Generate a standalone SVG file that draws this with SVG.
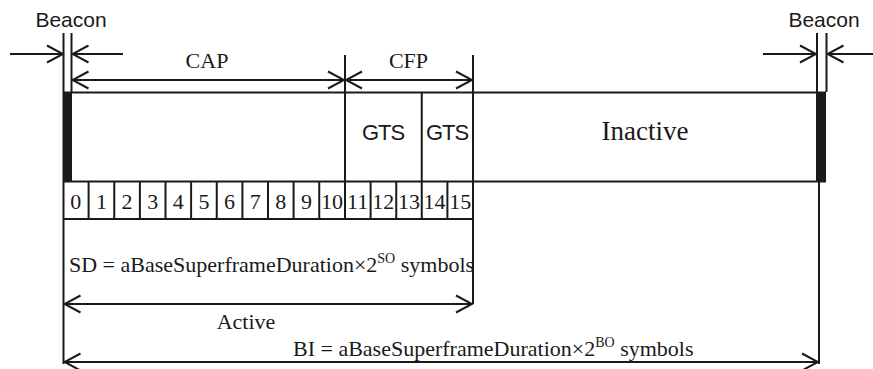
<svg xmlns="http://www.w3.org/2000/svg" width="873" height="369" viewBox="0 0 873 369">
<style>
.ln{stroke:#1a1a1a;stroke-width:2;fill:none}
.arr{stroke:#1a1a1a;stroke-width:2;fill:none;marker-end:url(#ah)}
.dbl{stroke:#1a1a1a;stroke-width:2;fill:none;marker-end:url(#ah);marker-start:url(#ahs)}
.bar{fill:#1a1a1a}
</style>
<defs>
<marker id="ah" markerUnits="userSpaceOnUse" markerWidth="20" markerHeight="20" viewBox="-18 -10 20 20" refX="0" refY="0" orient="auto">
<path d="M-16,-8.5 L0,0 L-16,8.5" stroke="#1a1a1a" stroke-width="2" fill="none"/>
</marker>
<marker id="ahs" markerUnits="userSpaceOnUse" markerWidth="20" markerHeight="20" viewBox="-18 -10 20 20" refX="0" refY="0" orient="auto-start-reverse">
<path d="M-16,-8.5 L0,0 L-16,8.5" stroke="#1a1a1a" stroke-width="2" fill="none"/>
</marker>
</defs>
<g id="superframe">
<line class="ln" x1="63" y1="92.5" x2="826" y2="92.5"/>
<line class="ln" x1="63" y1="181.5" x2="826" y2="181.5"/>
<rect class="bar" x="63" y="92" width="9" height="90"/>
<rect class="bar" x="816" y="92" width="10" height="90"/>
<line class="ln" x1="345" y1="55" x2="345" y2="219"/>
<line class="ln" x1="421.75" y1="92" x2="421.75" y2="219"/>
<line class="ln" x1="473" y1="55" x2="473" y2="304"/>
<g font-family="Liberation Sans, Arial, sans-serif" font-size="22" letter-spacing="-1" fill="#1a1a1a" text-anchor="middle">
<text x="383" y="139.5">GTS</text>
<text x="447" y="139.5">GTS</text>
</g>
<text x="645" y="139.5" font-family="Liberation Serif, Times New Roman, serif" font-size="27" fill="#1a1a1a" text-anchor="middle">Inactive</text>
</g>
<g id="slots">
<line class="ln" x1="63" y1="219" x2="473" y2="219"/>
<line class="ln" x1="88.6" y1="182" x2="88.6" y2="219"/>
<line class="ln" x1="114.25" y1="182" x2="114.25" y2="219"/>
<line class="ln" x1="139.9" y1="182" x2="139.9" y2="219"/>
<line class="ln" x1="165.5" y1="182" x2="165.5" y2="219"/>
<line class="ln" x1="191.1" y1="182" x2="191.1" y2="219"/>
<line class="ln" x1="216.75" y1="182" x2="216.75" y2="219"/>
<line class="ln" x1="242.4" y1="182" x2="242.4" y2="219"/>
<line class="ln" x1="268" y1="182" x2="268" y2="219"/>
<line class="ln" x1="293.6" y1="182" x2="293.6" y2="219"/>
<line class="ln" x1="319.25" y1="182" x2="319.25" y2="219"/>
<line class="ln" x1="370.6" y1="182" x2="370.6" y2="219"/>
<line class="ln" x1="396.25" y1="182" x2="396.25" y2="219"/>
<line class="ln" x1="447.4" y1="182" x2="447.4" y2="219"/>
<g font-family="Liberation Serif, Times New Roman, serif" font-size="22" fill="#1a1a1a" text-anchor="middle">
<text x="75.8" y="208.5">0</text>
<text x="101.4" y="208.5">1</text>
<text x="127.1" y="208.5">2</text>
<text x="152.7" y="208.5">3</text>
<text x="178.3" y="208.5">4</text>
<text x="203.9" y="208.5">5</text>
<text x="229.6" y="208.5">6</text>
<text x="255.2" y="208.5">7</text>
<text x="280.8" y="208.5">8</text>
<text x="306.4" y="208.5">9</text>
<text x="332.1" y="208.5">10</text>
<text x="357.7" y="208.5">11</text>
<text x="383.3" y="208.5">12</text>
<text x="408.9" y="208.5">13</text>
<text x="434.6" y="208.5">14</text>
<text x="460.2" y="208.5">15</text>
</g>
</g>
<g id="beacon-left">
<line class="ln" x1="63.5" y1="33" x2="63.5" y2="364"/>
<line class="ln" x1="71.5" y1="33" x2="71.5" y2="92"/>
<text x="71" y="27" font-family="Liberation Sans, Arial, sans-serif" font-size="21" fill="#1a1a1a" text-anchor="middle">Beacon</text>
</g>
<g id="beacon-right">
<line class="ln" x1="817" y1="33" x2="817" y2="92"/>
<line class="ln" x1="826.5" y1="33" x2="826.5" y2="92"/>
<line class="ln" x1="819" y1="182" x2="819" y2="364"/>
<text x="824" y="27" font-family="Liberation Sans, Arial, sans-serif" font-size="21" fill="#1a1a1a" text-anchor="middle">Beacon</text>
</g>
<g id="connectors">
<line class="arr" x1="10" y1="54" x2="63" y2="54"/>
<line class="arr" x1="123" y1="54" x2="72.5" y2="54"/>
<line class="arr" x1="763" y1="54" x2="816" y2="54"/>
<line class="arr" x1="873" y1="54" x2="827.5" y2="54"/>
<line class="dbl" x1="72.5" y1="80" x2="344" y2="80"/>
<line class="dbl" x1="346" y1="80" x2="472" y2="80"/>
<line class="dbl" x1="64.5" y1="304" x2="472" y2="304"/>
<line class="dbl" x1="64.5" y1="362" x2="818" y2="362"/>
</g>
<g id="labels" font-family="Liberation Serif, Times New Roman, serif" font-size="22" fill="#1a1a1a">
<text x="207" y="67.5" text-anchor="middle">CAP</text>
<text x="408.5" y="67.5" text-anchor="middle">CFP</text>
<text x="69" y="272">SD = aBaseSuperframeDuration×2<tspan font-size="14" dy="-9">SO</tspan><tspan dy="9"> symbols</tspan></text>
<text x="246" y="329" text-anchor="middle">Active</text>
<text x="293" y="356">BI = aBaseSuperframeDuration×2<tspan font-size="14" dy="-9">BO</tspan><tspan dy="9"> symbols</tspan></text>
</g>
</svg>
